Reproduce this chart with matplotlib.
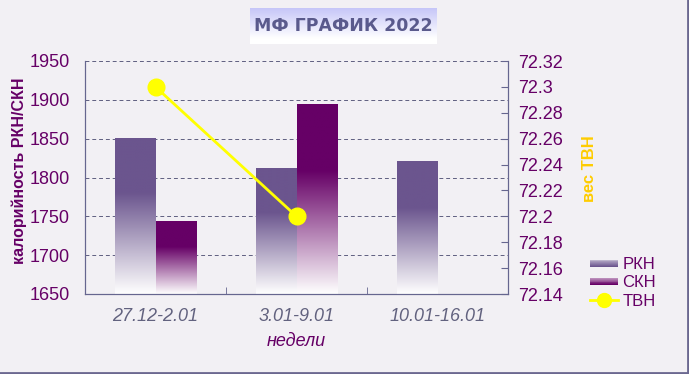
import numpy as np
import matplotlib
matplotlib.use('Agg')
import matplotlib.pyplot as plt
from matplotlib.colors import to_rgb
from matplotlib.lines import Line2D
from matplotlib.patches import Rectangle
from matplotlib.legend_handler import HandlerBase

weeks = ['27.12-2.01', '3.01-9.01', '10.01-16.01']
rkn = [1850, 1811, 1820]
skn = [1743, 1894, np.nan]
tvn = [72.3, 72.2, np.nan]

bg = '#F2F0F4'
c_rkn = '#6B558E'
c_skn = '#660066'
c_tvn = '#FFFF00'
dark = '#660066'
spine_c = '#66668F'

plt.rcParams['font.family'] = ['Liberation Sans', 'DejaVu Sans']


def gradient(color, n=256, solid=0.35):
    t = np.linspace(0, 1, n)
    f = np.clip((t - solid) / (1 - solid), 0, 1)[:, None]
    c = np.array(to_rgb(color))[None, :]
    return (c * (1 - f) + np.ones(3) * f)[:, None, :]


def gradient_bar(ax, x0, w, top, bottom, color):
    ax.imshow(gradient(color), extent=(x0, x0 + w, bottom, top),
              aspect='auto', origin='upper', interpolation='bilinear', zorder=2)


class GradHandler(HandlerBase):
    def create_artists(self, legend, orig, xd, yd, width, height, fontsize, trans):
        base = np.array(to_rgb(orig.get_facecolor()))
        arts = []
        n = 8
        for i in range(n):
            f = i / (n - 1) * 0.55
            c = base * (1 - f) + np.ones(3) * f
            r = Rectangle((xd, yd + height * 0.2 + i * height * 0.6 / n), width,
                          height * 0.6 / n + 0.1, facecolor=c, edgecolor='none',
                          transform=trans)
            arts.append(r)
        return arts


fig = plt.figure(figsize=(6.89, 3.74), dpi=100, facecolor=bg)
ax = fig.add_axes([85 / 689, 1 - 294 / 374, 423 / 689, 233 / 374])
ax.set_facecolor(bg)

x = np.arange(len(weeks))
w = 0.29
for i in x:
    if not np.isnan(rkn[i]):
        gradient_bar(ax, i - w, w, rkn[i], 1650, c_rkn)
    if not np.isnan(skn[i]):
        gradient_bar(ax, i, w, skn[i], 1650, c_skn)

ax.set_xlim(-0.5, 2.5)
ax.set_ylim(1650, 1950)
ax.set_yticks(np.arange(1650, 1951, 50))
ax.yaxis.grid(True, linestyle=(0, (4, 3)), color='#5F5F80', linewidth=0.7)
ax.set_axisbelow(True)
ax.tick_params(axis='y', length=0, pad=11, labelsize=13, labelcolor=dark)
ax.set_xticks(x)
ax.set_xticklabels(weeks, fontstyle='italic', color='#62627F', fontsize=13)
ax.set_xticks([0.5, 1.5], minor=True)
ax.tick_params(axis='x', which='major', length=0, pad=10)
ax.tick_params(axis='x', which='minor', direction='in', length=5, color=spine_c)
ax.set_xlabel('недели', fontstyle='italic', color=dark, fontsize=13, labelpad=6)
ax.set_ylabel('калорийность РКН/СКН', color=dark, fontsize=11.5, fontweight='bold')
ax.yaxis.set_label_coords(-0.137, 0.53)
for s in ['left', 'bottom', 'right']:
    ax.spines[s].set_color(spine_c)
ax.spines['top'].set_visible(False)

ax2 = ax.twinx()
ax2.plot(x, tvn, color=c_tvn, linewidth=2, marker='o', markersize=12, zorder=5)
ax2.set_ylim(72.14, 72.32)
ticks2 = np.round(np.arange(72.14, 72.321, 0.02), 2)
ax2.set_yticks(ticks2)
ax2.set_yticklabels(['%g' % v for v in ticks2])
ax2.tick_params(axis='y', direction='in', length=5, color=spine_c, pad=7,
                labelsize=13, labelcolor=dark)
ax2.set_ylabel('вес ТВН', color='#FFCC00', fontsize=12, fontweight='bold')
ax2.yaxis.set_label_coords(1.175, 0.536)
for s in ['left', 'bottom', 'right']:
    ax2.spines[s].set_color(spine_c)
ax2.spines['top'].set_visible(False)

h_rkn = Rectangle((0, 0), 1, 1, facecolor=c_rkn)
h_skn = Rectangle((0, 0), 1, 1, facecolor=c_skn)
h_tvn = Line2D([], [], color=c_tvn, linewidth=2, marker='o', markersize=10)
leg = fig.legend([h_rkn, h_skn, h_tvn], ['РКН', 'СКН', 'ТВН'],
                 loc='upper left', bbox_to_anchor=(590 / 689, 1 - 257 / 374),
                 frameon=False, fontsize=12, handlelength=1.7, handletextpad=0.25,
                 labelspacing=0.2, borderpad=0, borderaxespad=0,
                 handler_map={Rectangle: GradHandler()})
for t in leg.get_texts():
    t.set_color(dark)

# title box with gradient
tax = fig.add_axes([250 / 689, 1 - 44 / 374, 187 / 689, 36 / 374])
tg = np.linspace(0, 1, 64)
top_c = np.array(to_rgb('#C6C6F8'))
f = np.clip(tg / 0.85, 0, 1)[:, None]
tax.imshow((top_c * (1 - f) + np.ones(3) * f)[:, None, :], extent=(0, 1, 0, 1),
           aspect='auto', origin='upper', interpolation='bilinear')
tax.set_xlim(0, 1)
tax.set_ylim(0, 1)
tax.axis('off')
tax.text(0.5, 0.5, 'МФ ГРАФИК 2022', ha='center', va='center', fontsize=12.5,
         fontweight='bold', color='#5A5A8C', family=['DejaVu Sans'])

# figure border (right and bottom)
fig.add_artist(Line2D([1 - 1.5 / 689, 1 - 1.5 / 689], [0, 1], color='#6B6890',
                      linewidth=2, transform=fig.transFigure))
fig.add_artist(Line2D([0, 1], [1.5 / 374, 1.5 / 374], color='#6B6890',
                      linewidth=2, transform=fig.transFigure))

fig.savefig('out.png', dpi=100, facecolor=bg)
